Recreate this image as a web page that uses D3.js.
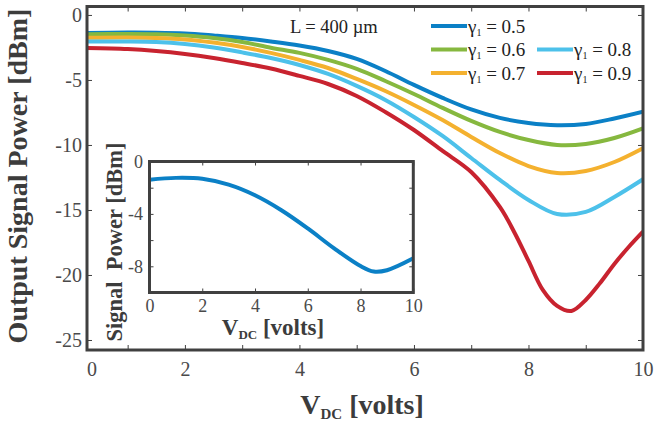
<!DOCTYPE html>
<html><head><meta charset="utf-8">
<script src="https://cdn.jsdelivr.net/npm/d3@7"></script>
<style>
body{margin:0;background:#fff}
svg{display:block}
text{font-family:"Liberation Serif","Times New Roman",serif}
</style>
</head><body>
<svg id="c" width="657" height="422"></svg>
<script>
// ---------- data ----------
const xVolts   = [0.29, 1, 1.5, 2, 2.5, 3, 3.5, 4, 4.5, 5, 5.5, 6, 6.5, 7, 7.5, 8, 8.5, 9, 9.5, 10];
const gamma05  = [-1.38,-1.35,-1.36,-1.42,-1.58,-1.77,-2.04,-2.35,-2.77,-3.38,-4.31,-5.38,-6.38,-7.27,-7.92,-8.31,-8.48,-8.38,-7.96,-7.44];
const gamma06  = [-1.48,-1.46,-1.48,-1.58,-1.77,-2.08,-2.52,-2.92,-3.46,-4.15,-5.08,-6.08,-7.15,-8.15,-9.00,-9.62,-10.0,-9.92,-9.46,-8.72];
const gamma07  = [-1.75,-1.73,-1.77,-1.88,-2.12,-2.46,-2.92,-3.46,-4.08,-4.92,-5.85,-6.92,-8.08,-9.38,-10.62,-11.62,-12.15,-12.0,-11.31,-10.25];
const gamma08  = [-2.05,-2.04,-2.08,-2.23,-2.50,-2.88,-3.31,-3.85,-4.54,-5.46,-6.54,-7.85,-9.31,-11.0,-12.69,-14.23,-15.31,-15.15,-14.0,-12.64];
const xRed     = [0.29, 1, 1.5, 2, 2.5, 3, 3.5, 4, 4.5, 5, 5.5, 6, 6.5, 7, 7.5, 7.75, 8, 8.25, 8.5, 8.75, 9, 9.25, 9.5, 9.75, 10];
const gamma09  = [-2.54,-2.62,-2.77,-3.0,-3.31,-3.69,-4.12,-4.69,-5.31,-6.23,-7.46,-8.85,-10.46,-12.08,-14.77,-16.69,-18.92,-21.15,-22.38,-22.77,-21.92,-20.62,-19.15,-17.85,-16.67];
const seriesNames = ["0.5","0.6","0.7","0.8","0.9"];
const seriesColors = ["#0b80c6","#86b83f","#f4b12f","#4dc1ea","#c8232f"];

const insetX = [0, 1, 2, 3, 4, 5, 6, 7, 8, 8.5, 9, 10];
const insetY = [-1.39,-1.25,-1.32,-1.77,-2.58,-3.72,-5.11,-6.63,-7.98,-8.40,-8.30,-7.39];

const xTickValues = [1,2,3,4,5,6,7,8,9,10];
const yTickValues = [0,-5,-10,-15,-20,-25];
const insetXTicks = [0,2,4,6,8,10];
const insetYTicks = [0,-2,-4,-6,-8];
const insetYLabels = [0,-4,-8];

// ---------- layout ----------
const svg = d3.select("#c");
const axisCol = "#404040";
const labelCol = "#4a4a4a";
const x = d3.scaleLinear().domain([0.29, 10]).range([87, 643]);
const y = d3.scaleLinear().domain([0.65, -25.77]).range([6.5, 350]);

svg.append("defs").append("clipPath").attr("id","clipMain")
  .append("rect").attr("x",87).attr("y",6.5).attr("width",556).attr("height",343.5);

function styleAxis(g, fs){
  g.select(".domain").remove();
  g.selectAll(".tick line").attr("stroke",axisCol).attr("stroke-width",1);
  g.selectAll(".tick text").attr("fill",labelCol).attr("font-size",fs)
    .attr("font-family","'Liberation Serif','Times New Roman',serif");
}

// axes (main)
svg.append("g").attr("transform","translate(0,350)")
  .call(d3.axisBottom(x).tickValues(xTickValues).tickSizeInner(-5).tickSizeOuter(0).tickPadding(12)
    .tickFormat(d => d % 2 === 0 ? d : ""))
  .call(g => styleAxis(g, 20));
svg.append("g").attr("transform","translate(0,6.5)")
  .call(d3.axisTop(x).tickValues(xTickValues).tickSizeInner(-5).tickSizeOuter(0).tickFormat(""))
  .call(g => styleAxis(g, 20));
svg.append("g").attr("transform","translate(87,0)")
  .call(d3.axisLeft(y).tickValues(yTickValues).tickSizeInner(-5).tickSizeOuter(0).tickPadding(5)
    .tickFormat(d => d))
  .call(g => styleAxis(g, 20));
svg.append("g").attr("transform","translate(643,0)")
  .call(d3.axisRight(y).tickValues(yTickValues).tickSizeInner(-5).tickSizeOuter(0).tickFormat(""))
  .call(g => styleAxis(g, 20));
// "0" label at the left end of the x axis
svg.append("text").attr("x", x.range()[0] + 5).attr("y", 376).attr("text-anchor","middle")
  .attr("font-size",20).attr("fill",labelCol).text("0");

// lines
const allSeries = [
  {xs:xVolts, ys:gamma05}, {xs:xVolts, ys:gamma06}, {xs:xVolts, ys:gamma07},
  {xs:xVolts, ys:gamma08}, {xs:xRed, ys:gamma09}
];
const gLines = svg.append("g").attr("clip-path","url(#clipMain)");
allSeries.forEach((s,i) => {
  const pts = s.xs.map((v,j) => [v, s.ys[j]]);
  gLines.append("path")
    .attr("d", d3.line().x(d => x(d[0])).y(d => y(d[1])).curve(d3.curveCatmullRom.alpha(0.5))(pts))
    .attr("fill","none").attr("stroke",seriesColors[i]).attr("stroke-width",4)
    .attr("stroke-linejoin","round");
});

// frame
svg.append("rect").attr("x",87).attr("y",6.5).attr("width",556).attr("height",343.5)
  .attr("fill","none").attr("stroke",axisCol).attr("stroke-width",3);

// titles
const xt = svg.append("text").attr("x",362).attr("y",414).attr("text-anchor","middle")
  .attr("font-weight","bold").attr("font-size",28).attr("fill","#3c3c3c");
xt.append("tspan").text("V");
xt.append("tspan").attr("font-size",15).attr("dy",5).text("DC");
xt.append("tspan").attr("dy",-5).text(" [volts]");

svg.append("text").attr("transform","translate(27,176) rotate(-90)").attr("text-anchor","middle")
  .attr("font-weight","bold").attr("font-size",28).attr("fill","#3c3c3c")
  .text("Output Signal Power [dBm]");

// annotation and legend
svg.append("text").attr("x",290).attr("y",33).attr("font-size",18.5).attr("fill","#222")
  .text("L = 400 \u00b5m");

const legendPos = [[431,26],[431,49.5],[431,73],[537,49.5],[537,73]];
seriesNames.forEach((n,i) => {
  const [lx,ly] = legendPos[i];
  svg.append("line").attr("x1",lx).attr("x2",lx+36).attr("y1",ly).attr("y2",ly)
    .attr("stroke",seriesColors[i]).attr("stroke-width",4);
  const t = svg.append("text").attr("x",lx+37).attr("y",ly+6.5).attr("font-size",19).attr("fill","#222");
  t.append("tspan").text("\u03b3");
  t.append("tspan").attr("font-size",10).attr("dy",3).text("1");
  t.append("tspan").attr("dy",-3).text(" = " + n);
});

// ---------- inset ----------
const ix = d3.scaleLinear().domain([0,10]).range([149.5,413.3]);
const iy = d3.scaleLinear().domain([0,-10]).range([161.5,292.5]);
svg.append("rect").attr("x",149.5).attr("y",161.5).attr("width",263.8).attr("height",131)
  .attr("fill","#fff");
svg.append("g").attr("transform","translate(0,292.5)")
  .call(d3.axisBottom(ix).tickValues(insetXTicks).tickSizeInner(-4).tickSizeOuter(0).tickPadding(7))
  .call(g => styleAxis(g, 18));
svg.append("g").attr("transform","translate(0,161.5)")
  .call(d3.axisTop(ix).tickValues(insetXTicks).tickSizeInner(-4).tickSizeOuter(0).tickFormat(""))
  .call(g => styleAxis(g, 18));
svg.append("g").attr("transform","translate(149.5,0)")
  .call(d3.axisLeft(iy).tickValues(insetYTicks).tickSizeInner(-4).tickSizeOuter(0).tickPadding(6.5)
    .tickFormat(d => insetYLabels.includes(d) ? d : ""))
  .call(g => styleAxis(g, 18));
svg.append("g").attr("transform","translate(413.3,0)")
  .call(d3.axisRight(iy).tickValues(insetYTicks).tickSizeInner(-4).tickSizeOuter(0).tickFormat(""))
  .call(g => styleAxis(g, 18));

const insetPts = insetX.map((v,j) => [v, insetY[j]]);
svg.append("path")
  .attr("d", d3.line().x(d => ix(d[0])).y(d => iy(d[1])).curve(d3.curveCatmullRom.alpha(0.5))(insetPts))
  .attr("fill","none").attr("stroke",seriesColors[0]).attr("stroke-width",4);
svg.append("rect").attr("x",149.5).attr("y",161.5).attr("width",263.8).attr("height",131)
  .attr("fill","none").attr("stroke",axisCol).attr("stroke-width",3);

const ixt = svg.append("text").attr("x",273).attr("y",335).attr("text-anchor","middle")
  .attr("font-weight","bold").attr("font-size",23).attr("fill","#3c3c3c");
ixt.append("tspan").text("V");
ixt.append("tspan").attr("font-size",13).attr("dy",4).text("DC");
ixt.append("tspan").attr("dy",-4).text(" [volts]");

svg.append("text").attr("transform","translate(121.5,242) rotate(-90)").attr("text-anchor","middle")
  .attr("font-weight","bold").attr("font-size",22.5).attr("fill","#3c3c3c")
  .style("white-space","pre")
  .text("Signal  Power [dBm]");
</script>
</body></html>
